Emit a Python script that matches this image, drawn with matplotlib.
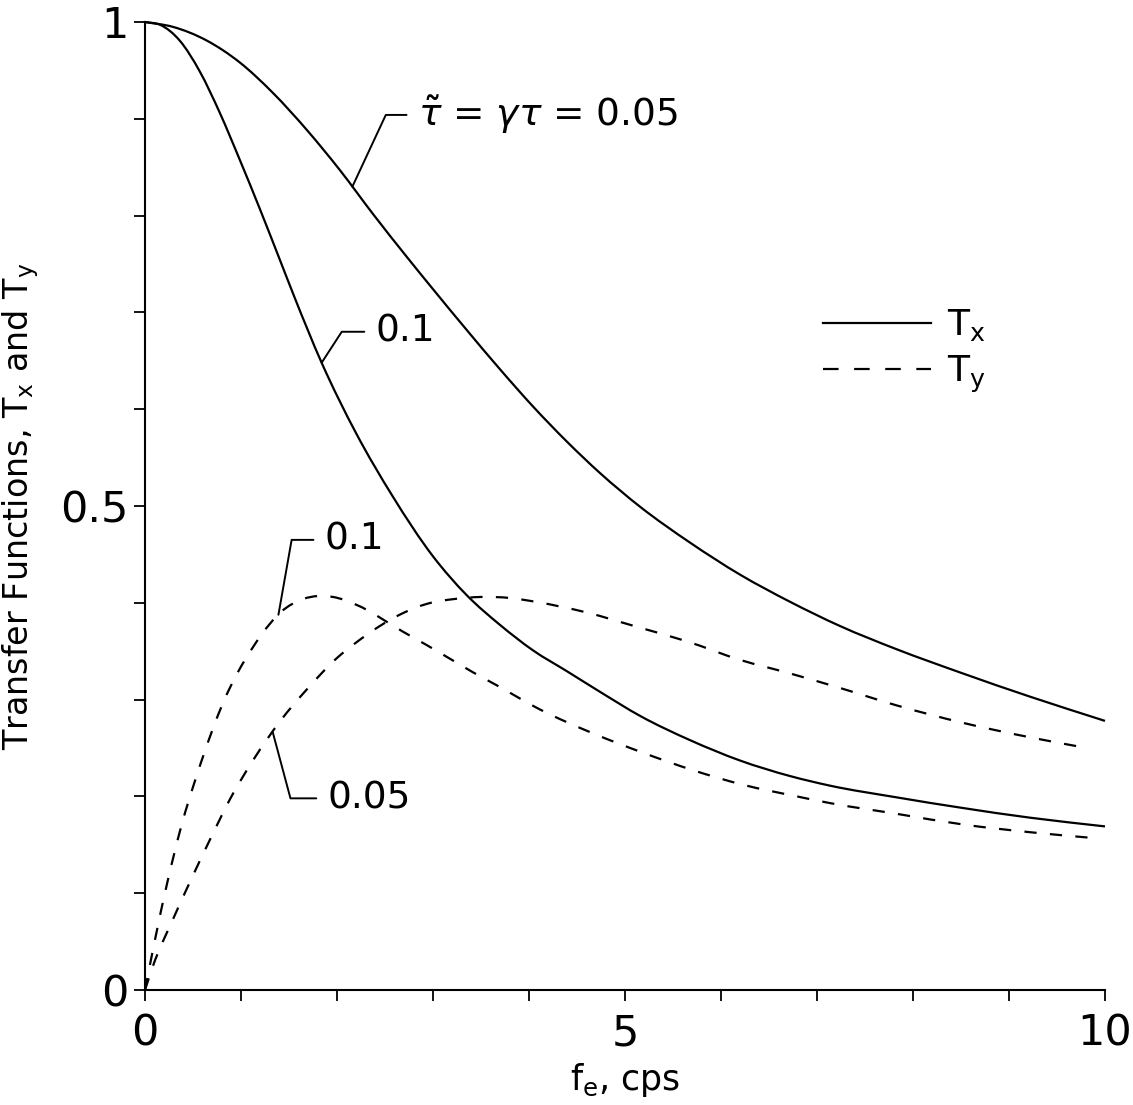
import numpy as np
import matplotlib
matplotlib.use('Agg')
import matplotlib.pyplot as plt
from matplotlib.lines import Line2D
from matplotlib.path import Path
from matplotlib.patches import PathPatch

# curves (f_e in cps, transfer function value)
# T_x, tau~ = 0.05
f_tx_005 = [0, 0.29, 0.64, 0.99, 1.33, 1.69, 2.03, 2.38, 2.73, 3.0, 3.35,
            3.7, 4.04, 4.4, 4.74, 5.16, 5.68, 6.2, 6.72, 7.24, 7.83, 8.52,
            9.22, 10]
tx_005 = [1.0, 0.995, 0.981, 0.958, 0.927, 0.888, 0.847, 0.801, 0.757, 0.724,
          0.682, 0.641, 0.603, 0.566, 0.534, 0.499, 0.462, 0.429, 0.401, 0.376,
          0.352, 0.327, 0.303, 0.278]

# T_x, tau~ = 0.1
f_tx_01 = [0, 0.16, 0.36, 0.57, 0.78, 0.99, 1.2, 1.41, 1.56, 1.84, 2.2, 2.58,
           3.0, 3.35, 3.7, 4.04, 4.4, 4.74, 5.16, 5.68, 6.2, 6.72, 7.14, 7.83,
           8.52, 9.22, 10]
tx_01 = [1.0, 0.997, 0.981, 0.949, 0.906, 0.857, 0.806, 0.753, 0.715, 0.648,
         0.575, 0.510, 0.448, 0.408, 0.377, 0.351, 0.329, 0.308, 0.283, 0.258,
         0.237, 0.221, 0.211, 0.199, 0.188, 0.178, 0.169]

# T_y, tau~ = 0.05
f_ty_005 = [0, 0.08, 0.3, 0.47, 0.68, 0.89, 1.13, 1.41, 1.69, 2.0, 2.2, 2.43,
            2.68, 2.94, 3.23, 3.49, 3.8, 4.07, 4.6, 5.13, 5.65, 6.2, 6.72,
            7.24, 7.83, 8.52, 9.22, 9.81]
ty_005 = [0.0, 0.024, 0.075, 0.112, 0.156, 0.198, 0.238, 0.278, 0.311, 0.343,
          0.359, 0.375, 0.389, 0.399, 0.404, 0.406, 0.405, 0.401, 0.390, 0.375,
          0.360, 0.341, 0.327, 0.312, 0.294, 0.276, 0.261, 0.250]

# T_y, tau~ = 0.1
f_ty_01 = [0, 0.1, 0.23, 0.38, 0.54, 0.7, 0.81, 0.96, 1.06, 1.22, 1.41, 1.65,
           1.96, 2.2, 2.69, 2.94, 3.18, 3.42, 3.66, 4.11, 4.67, 5.19, 5.71,
           6.23, 6.79, 7.14, 7.83, 8.52, 9.22, 9.88]
ty_01 = [0.0, 0.05, 0.11, 0.17, 0.222, 0.268, 0.296, 0.327, 0.344, 0.368,
         0.390, 0.404, 0.406, 0.398, 0.370, 0.356, 0.342, 0.328, 0.315, 0.290,
         0.265, 0.245, 0.227, 0.212, 0.200, 0.193, 0.182, 0.171, 0.163, 0.157]

x_ticks = [0, 5, 10]
x_ticklabels = ['0', '5', '10']
y_ticks = [0, 0.5, 1]
y_ticklabels = ['0', '0.5', '1']

LW = 1.6
DASH = (5.5, 6)


def smooth_path(xs, ys):
    # cubic Hermite (Bezier) path through the read points, drawn in data coords
    x = np.asarray(xs, float)
    y = np.asarray(ys, float)
    h = np.diff(x)
    d = np.diff(y) / h
    m = np.empty_like(x)
    m[0], m[-1] = d[0], d[-1]
    m[1:-1] = (d[:-1] * h[1:] + d[1:] * h[:-1]) / (h[:-1] + h[1:])
    verts = [(x[0], y[0])]
    codes = [Path.MOVETO]
    for i in range(len(x) - 1):
        verts += [(x[i] + h[i] / 3, y[i] + m[i] * h[i] / 3),
                  (x[i + 1] - h[i] / 3, y[i + 1] - m[i + 1] * h[i] / 3),
                  (x[i + 1], y[i + 1])]
        codes += [Path.CURVE4] * 3
    return Path(verts, codes)


def draw_curve(ax, xs, ys, dashed=False):
    ls = (0, DASH) if dashed else '-'
    ax.add_patch(PathPatch(smooth_path(xs, ys), fill=False, edgecolor='black',
                           lw=LW, linestyle=ls, capstyle='butt', clip_on=False))


fig = plt.figure(figsize=(11.33, 11.05), dpi=100)
ax = fig.add_axes([145 / 1133, 115 / 1105, 960 / 1133, 968 / 1105])

draw_curve(ax, f_tx_005, tx_005)
draw_curve(ax, f_tx_01, tx_01)
draw_curve(ax, f_ty_005, ty_005, dashed=True)
draw_curve(ax, f_ty_01, ty_01, dashed=True)

ax.set_xlim(0, 10)
ax.set_ylim(0, 1)
for side in ('top', 'right'):
    ax.spines[side].set_visible(False)
for side in ('left', 'bottom'):
    ax.spines[side].set_linewidth(1.5)

ax.set_xticks(x_ticks)
ax.set_xticklabels(x_ticklabels)
ax.set_xticks(np.arange(0, 11, 1), minor=True)
ax.set_yticks(y_ticks)
ax.set_yticklabels(y_ticklabels)
ax.set_yticks(np.arange(0, 1.01, 0.1), minor=True)
ax.tick_params(which='both', direction='out', length=8, width=1.3)
ax.tick_params(axis='both', which='major', labelsize=31)
ax.tick_params(axis='x', which='major', pad=8)
ax.tick_params(axis='y', which='major', pad=4)

ax.set_xlabel(r'f$_\mathrm{e}$, cps', fontsize=25, labelpad=5)
ax.set_ylabel(r'Transfer Functions, T$_\mathrm{x}$ and T$_\mathrm{y}$',
              fontsize=24, labelpad=14)


def label_curve(fvals, yvals, f_pt, text, f_txt, y_txt, angle):
    y_pt = np.interp(f_pt, fvals, yvals)
    ax.annotate(text, xy=(f_pt, y_pt), xytext=(f_txt, y_txt),
                ha='left', va='center', fontsize=27,
                arrowprops=dict(arrowstyle='-', lw=1.4, relpos=(0, 0.5),
                                shrinkA=6, shrinkB=0,
                                connectionstyle='angle,angleA=0,angleB=%d,rad=0' % angle))


label_curve(f_tx_005, tx_005, 2.16, r'$\tilde{\tau}$ = $\gamma\tau$ = 0.05', 2.84, 0.904, 65)
label_curve(f_tx_01, tx_01, 1.84, '0.1', 2.4, 0.68, 57)
label_curve(f_ty_01, ty_01, 1.39, '0.1', 1.87, 0.465, 80)
label_curve(f_ty_005, ty_005, 1.33, '0.05', 1.9, 0.198, -75)

handles = [Line2D([], [], color='black', lw=LW),
           Line2D([], [], color='black', lw=LW, dashes=(7, 7))]
ax.legend(handles, [r'T$_\mathrm{x}$', r'T$_\mathrm{y}$'],
          loc='center left', bbox_to_anchor=(0.706, 0.66), frameon=False,
          fontsize=26, handlelength=3.0, handletextpad=0.45,
          labelspacing=0.3, borderpad=0, borderaxespad=0)

fig.savefig('out.png', dpi=100, facecolor='white')
